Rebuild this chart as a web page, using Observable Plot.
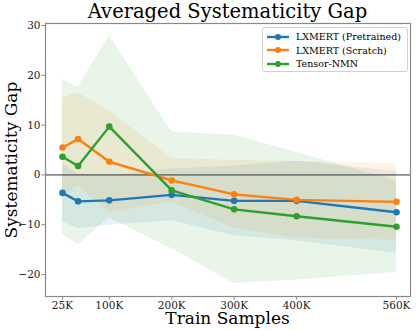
<!DOCTYPE html>
<html>
<head>
<meta charset="utf-8">
<script src="https://cdn.jsdelivr.net/npm/d3@7"></script>
<script src="https://cdn.jsdelivr.net/npm/@observablehq/plot@0.6"></script>
<style>
  body { margin: 0; background: #fff; }
  #wrap { position: relative; width: 416px; height: 330px; font-family: "DejaVu Serif", serif; overflow: hidden; }
  .title { position: absolute; top: 0px; left: 45px; width: 365px; text-align: center; font-size: 19.5px; line-height: 23px; color: #000; white-space: nowrap; }
  .xlabel { position: absolute; top: 309.5px; left: 45px; width: 365px; text-align: center; font-size: 17px; line-height: 17px; color: #000; white-space: nowrap; }
  .ylabel { position: absolute; left: 11px; top: 160px; transform: translate(-50%, -50%) rotate(-90deg); font-size: 17px; color: #000; white-space: nowrap; }
  .legend { position: absolute; left: 262px; top: 27px; width: 146px; height: 45px; background: rgba(255,255,255,0.85); border: 1px solid #d0d0d0; border-radius: 3px; box-sizing: border-box; font-size: 9.5px; }
  .legend .row { position: absolute; left: 4px; height: 13px; display: flex; align-items: center; white-space: nowrap; }
  .legend svg { margin-right: 7px; }
</style>
</head>
<body>
<div id="wrap"></div>
<script>
const samples = [25, 50, 100, 200, 300, 400, 560];
const seriesNames = ["LXMERT (Pretrained)", "LXMERT (Scratch)", "Tensor-NMN"];
const seriesColors = ["#1f77b4", "#ff7f0e", "#2ca02c"];
const pretrainedMean = [-3.6, -5.3, -5.1, -4.0, -5.2, -5.2, -7.5];
const pretrainedStd  = [5.8, 5.5, 5.0, 5.2, 7.0, 8.0, 8.2];
const scratchMean    = [5.5, 7.2, 2.65, -1.1, -3.9, -5.0, -5.4];
const scratchStd     = [10.0, 9.3, 10.3, 4.4, 6.8, 7.7, 7.7];
const nmnMean        = [3.65, 1.8, 9.7, -3.1, -6.9, -8.3, -10.4];
const nmnStd         = [15.5, 15.8, 18.3, 11.7, 14.9, 12.8, 9.2];
const xTicks = [25, 100, 200, 300, 400, 560];
const yTicks = [-20, -10, 0, 10, 20, 30];

const means = [pretrainedMean, scratchMean, nmnMean];
const stds = [pretrainedStd, scratchStd, nmnStd];
const rows = [];
seriesNames.forEach((name, k) => {
  samples.forEach((x, i) => {
    rows.push({series: name, x, m: means[k][i], lo: means[k][i] - stds[k][i], hi: means[k][i] + stds[k][i]});
  });
});

const color = {domain: seriesNames, range: seriesColors};
const chart = Plot.plot({
  width: 416,
  height: 330,
  marginLeft: 45,
  marginRight: 6,
  marginTop: 23,
  marginBottom: 34,
  style: {fontFamily: "DejaVu Serif, serif", fontSize: "10.5px", background: "#fff", color: "#222"},
  x: {domain: [-2.2, 582.4]},
  y: {domain: [-24.4, 30.4]},
  color,
  marks: [
    Plot.areaY(rows, {x: "x", y1: "lo", y2: "hi", z: "series", fill: "series", fillOpacity: 0.1}),
    Plot.ruleY([0], {stroke: "#333", strokeWidth: 1}),
    Plot.line(rows, {x: "x", y: "m", z: "series", stroke: "series", strokeWidth: 2.4}),
    Plot.dot(rows, {x: "x", y: "m", fill: "series", r: 3.3}),
    Plot.frame({stroke: "#888", strokeWidth: 1.2}),
    Plot.axisX({ticks: xTicks, tickFormat: d => d + "K", tickSize: 3.5, tickPadding: 2, stroke: "#888", label: null}),
    Plot.axisY({ticks: yTicks, tickSize: 3.5, tickPadding: 1.5, stroke: "#888", label: null, tickFormat: d => d < 0 ? "\u2212" + Math.abs(d) : String(d)})
  ]
});

const wrap = document.getElementById("wrap");
wrap.appendChild(chart);

const t = document.createElement("div"); t.className = "title"; t.textContent = "Averaged Systematicity Gap"; wrap.appendChild(t);
const xl = document.createElement("div"); xl.className = "xlabel"; xl.textContent = "Train Samples"; wrap.appendChild(xl);
const yl = document.createElement("div"); yl.className = "ylabel"; yl.textContent = "Systematicity Gap"; wrap.appendChild(yl);

const leg = document.createElement("div"); leg.className = "legend";
seriesNames.forEach((name, k) => {
  const r = document.createElement("div"); r.className = "row"; r.style.top = (2 + k * 13.5) + "px";
  r.innerHTML = `<svg width="22" height="8"><line x1="0" y1="4" x2="22" y2="4" stroke="${seriesColors[k]}" stroke-width="2.4"/><circle cx="11" cy="4" r="3" fill="${seriesColors[k]}"/></svg><span>${name}</span>`;
  leg.appendChild(r);
});
wrap.appendChild(leg);
</script>
</body>
</html>
